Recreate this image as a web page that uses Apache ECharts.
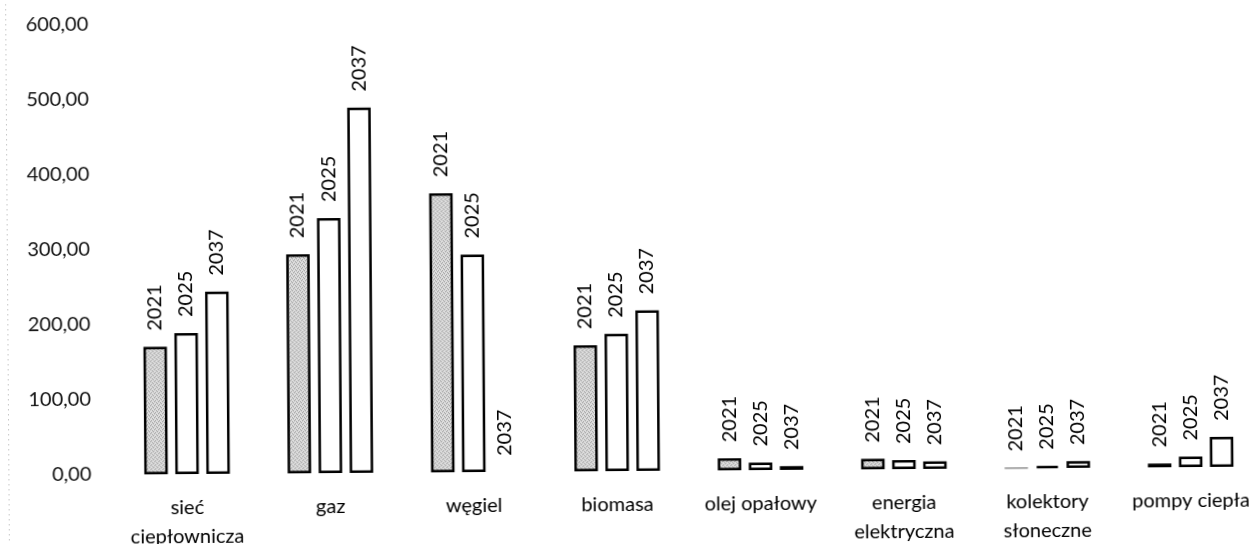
<!DOCTYPE html>
<html>
<head>
<meta charset="utf-8">
<script src="https://cdn.jsdelivr.net/npm/echarts@6/dist/echarts.min.js"></script>
<style>
  html, body { margin: 0; padding: 0; background: #fff; overflow: hidden; }
  #chart { width: 1256px; height: 544px; transform: rotate(-0.4deg); transform-origin: 50% 50%; }
</style>
</head>
<body>
<div id="chart"></div>
<script>
// Heat sources (categories) and demand per year
const categories = ['sieć\nciepłownicza', 'gaz', 'węgiel', 'biomasa', 'olej opałowy', 'energia\nelektryczna', 'kolektory\nsłoneczne', 'pompy ciepła'];
const years = ['2021', '2025', '2037'];
const values2021 = [170, 292, 372, 168, 16, 14, 0.5, 5];
const values2025 = [188, 340, 290, 183, 10, 12, 3, 14];
const values2037 = [243, 487, 0, 214, 5, 10, 9, 40];
const yMin = 0, yMax = 600, yStep = 100;

const FONT = 'Lato';

// light grey stipple used for the 2021 bars
function stipple() {
  const c = document.createElement('canvas');
  c.width = 4; c.height = 4;
  const g = c.getContext('2d');
  g.fillStyle = '#dedede';
  g.fillRect(0, 0, 4, 4);
  g.fillStyle = '#999';
  [[0, 0], [2, 1], [1, 2], [3, 3]].forEach(([x, y]) => g.fillRect(x, y, 1, 1));
  return c;
}

function barSeries(name, vals, fill) {
  return {
    name: name,
    type: 'bar',
    barWidth: 23.5,
    barGap: '32%',
    silent: true,
    data: vals.map(v => {
      const item = { value: v };
      if (v === 0) item.itemStyle = { borderWidth: 0 };
      else if (v < 1) item.itemStyle = { borderWidth: 1, borderColor: '#888' };
      return item;
    }),
    itemStyle: { color: fill, borderColor: '#000', borderWidth: 2.5 },
    label: {
      show: true,
      position: 'top',
      rotate: 90,
      align: 'left',
      verticalAlign: 'middle',
      distance: 16,
      formatter: '{a}',
      fontFamily: FONT,
      fontSize: 20,
      color: '#000'
    }
  };
}

const chart = echarts.init(document.getElementById('chart'), null, { renderer: 'canvas' });
chart.setOption({
  animation: false,
  backgroundColor: '#fff',
  grid: { left: 114, width: 1147, top: 21, bottom: 73, outerBoundsMode: 'none' },
  xAxis: {
    type: 'category',
    data: categories,
    axisLine: { show: false },
    axisTick: { show: false },
    axisLabel: { interval: 0, margin: 19, fontFamily: FONT, fontSize: 20, lineHeight: 29, color: '#000' }
  },
  yAxis: {
    type: 'value',
    min: yMin,
    max: yMax,
    interval: yStep,
    axisLine: { show: false },
    axisTick: { show: false },
    splitLine: { show: false },
    axisLabel: {
      margin: 24,
      fontFamily: FONT,
      fontSize: 20,
      color: '#111',
      formatter: v => v.toFixed(2).replace('.', ',')
    }
  },
  series: [
    barSeries(years[0], values2021, { image: stipple(), repeat: 'repeat' }),
    barSeries(years[1], values2025, '#fff'),
    barSeries(years[2], values2037, '#fff')
  ],
  graphic: [{
    type: 'line',
    silent: true,
    shape: { x1: 7.5, y1: 0, x2: 7.5, y2: 544 },
    style: { stroke: '#aaa', lineWidth: 1, lineDash: [1, 4] }
  }]
});
</script>
</body>
</html>
